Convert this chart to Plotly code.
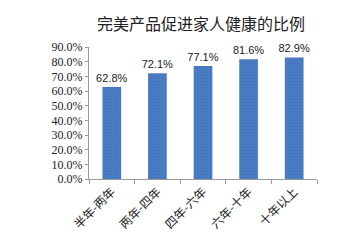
import plotly.graph_objects as go

categories = ["半年-两年", "两年-四年", "四年-六年", "六年-十年", "十年以上"]
values = [0.628, 0.721, 0.771, 0.816, 0.829]
labels = ["62.8%", "72.1%", "77.1%", "81.6%", "82.9%"]
yticks = [i / 10 for i in range(10)]
yticklabels = [f"{i*10:.1f}%" for i in range(10)]

fig = go.Figure(go.Bar(
    x=categories, y=values, text=labels, textposition="outside", constraintext="none",
    textfont=dict(family="Liberation Sans", size=11, color="#222"),
    marker=dict(color="#4A7CC4", line=dict(width=0),
                pattern=dict(shape=".", fgcolor="#3A64A8", size=3, solidity=0.2)),
    width=0.41, cliponaxis=False,
))
fig.update_layout(
    width=362, height=244, margin=dict(l=89, r=45, t=47, b=63),
    paper_bgcolor="white", plot_bgcolor="white", showlegend=False,
    title=dict(text="完美产品促进家人健康的比例", x=0.555, xanchor="center", y=0.9, yanchor="middle",
               font=dict(family="Noto Sans CJK SC", size=16, color="#222")),
)
fig.update_yaxes(range=[0, 0.9], tickvals=yticks, ticktext=yticklabels, showgrid=False,
                 showline=True, linecolor="#999", linewidth=1, ticks="outside", ticklen=3,
                 tickcolor="#999", tickfont=dict(family="Liberation Serif", size=12, color="#222"),
                 zeroline=False)
fig.update_xaxes(showgrid=False, showline=True, linecolor="#999", linewidth=1, ticks="outside",
                 tickson="boundaries", ticklen=4, tickcolor="#999", tickangle=-45,
                 tickfont=dict(family="Noto Sans CJK SC", size=12, color="#222"))
fig.write_html("out.html")
